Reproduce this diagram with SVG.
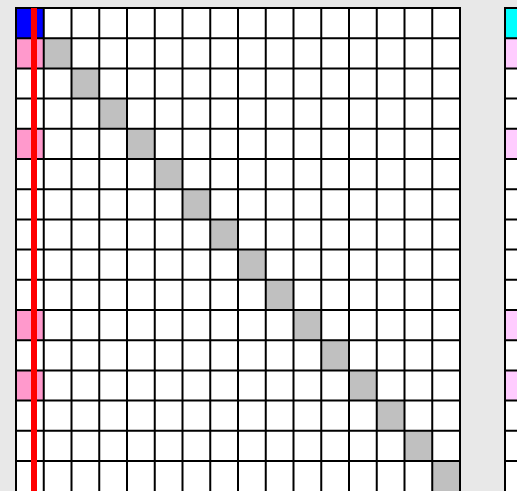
<svg xmlns="http://www.w3.org/2000/svg" width="517" height="491" viewBox="0 0 517 491">
<style>
.cell{stroke:#000;stroke-width:2}
.w{fill:#fff}
.g{fill:#c0c0c0}
.p{fill:#ff99cc}
.lp{fill:#ffccff}
.ln{stroke:#000;stroke-width:2;fill:none}
</style>
<rect width="517" height="491" fill="#e8e8e8"/>
<g id="matrix-left">
<rect x="16" y="8" width="444" height="490" fill="#fff"/>
<rect x="16" y="8" width="27.75" height="30.2" fill="#0000ff"/>
<g id="pink-cells">
<rect class="p" x="16" y="38.2" width="27.75" height="30.2"/>
<rect class="p" x="16" y="128.8" width="27.75" height="30.2"/>
<rect class="p" x="16" y="310" width="27.75" height="30.2"/>
<rect class="p" x="16" y="370.4" width="27.75" height="30.2"/>
</g>
<g id="diagonal">
<rect class="g" x="43.75" y="38.2" width="27.75" height="30.2"/>
<rect class="g" x="71.5" y="68.4" width="27.75" height="30.2"/>
<rect class="g" x="99.25" y="98.6" width="27.75" height="30.2"/>
<rect class="g" x="127" y="128.8" width="27.75" height="30.2"/>
<rect class="g" x="154.75" y="159" width="27.75" height="30.2"/>
<rect class="g" x="182.5" y="189.2" width="27.75" height="30.2"/>
<rect class="g" x="210.25" y="219.4" width="27.75" height="30.2"/>
<rect class="g" x="238" y="249.6" width="27.75" height="30.2"/>
<rect class="g" x="265.75" y="279.8" width="27.75" height="30.2"/>
<rect class="g" x="293.5" y="310" width="27.75" height="30.2"/>
<rect class="g" x="321.25" y="340.2" width="27.75" height="30.2"/>
<rect class="g" x="349" y="370.4" width="27.75" height="30.2"/>
<rect class="g" x="376.75" y="400.6" width="27.75" height="30.2"/>
<rect class="g" x="404.5" y="430.8" width="27.75" height="30.2"/>
<rect class="g" x="432.25" y="461" width="27.75" height="30.2"/>
</g>
<g id="grid-lines">
<path class="ln" d="M16 8V498M43.75 8V498M71.5 8V498M99.25 8V498M127 8V498M154.75 8V498M182.5 8V498M210.25 8V498M238 8V498M265.75 8V498M293.5 8V498M321.25 8V498M349 8V498M376.75 8V498M404.5 8V498M432.25 8V498M460 8V498"/>
<path class="ln" d="M15 8H461M15 38.2H461M15 68.4H461M15 98.6H461M15 128.8H461M15 159H461M15 189.2H461M15 219.4H461M15 249.6H461M15 279.8H461M15 310H461M15 340.2H461M15 370.4H461M15 400.6H461M15 430.8H461M15 461H461"/>
</g>
<rect id="red-bar" x="31" y="8" width="6" height="490" fill="#ff0000"/>
</g>
<g id="matrix-right">
<rect x="505" y="8" width="40" height="490" fill="#fff"/>
<rect x="505" y="8" width="27.75" height="30.2" fill="#00ffff"/>
<rect class="lp" x="505" y="38.2" width="27.75" height="30.2"/>
<rect class="lp" x="505" y="128.8" width="27.75" height="30.2"/>
<rect class="lp" x="505" y="310" width="27.75" height="30.2"/>
<rect class="lp" x="505" y="370.4" width="27.75" height="30.2"/>
<path class="ln" d="M505 8V498"/>
<path class="ln" d="M504 8H520M504 38.2H520M504 68.4H520M504 98.6H520M504 128.8H520M504 159H520M504 189.2H520M504 219.4H520M504 249.6H520M504 279.8H520M504 310H520M504 340.2H520M504 370.4H520M504 400.6H520M504 430.8H520M504 461H520"/>
</g>
</svg>
